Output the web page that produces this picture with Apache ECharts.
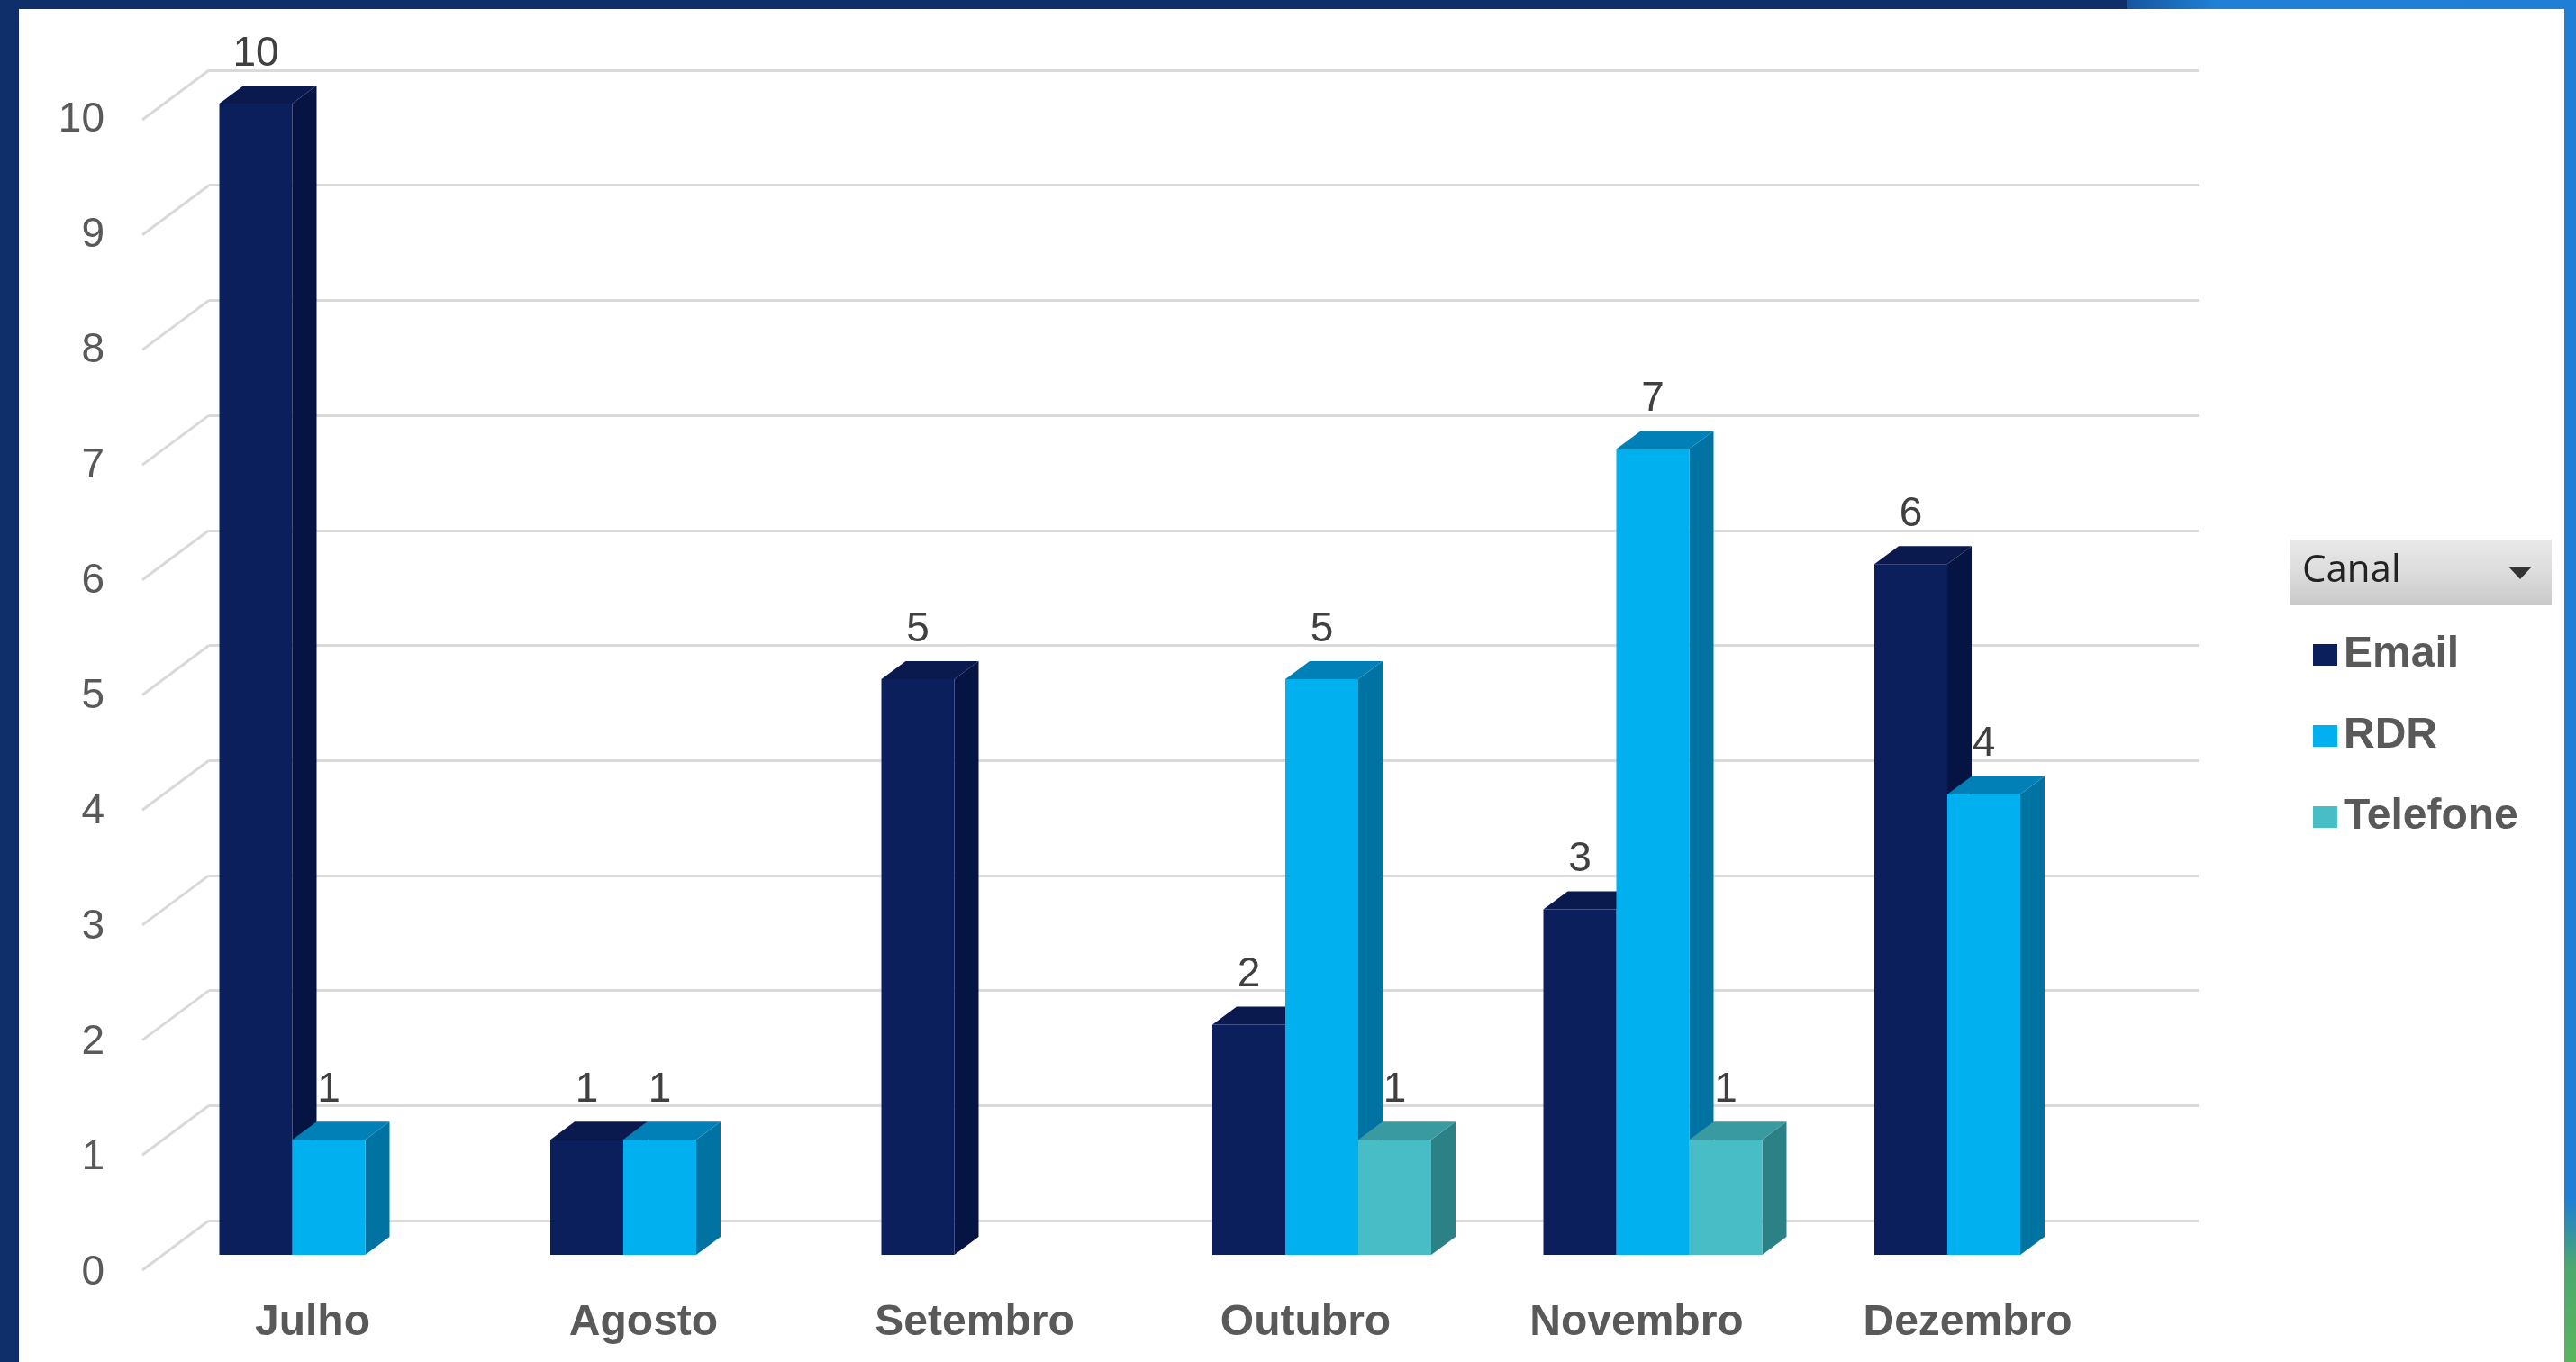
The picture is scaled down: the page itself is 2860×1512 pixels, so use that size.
<!DOCTYPE html>
<html>
<head>
<meta charset="utf-8">
<script src="https://cdn.jsdelivr.net/npm/echarts@6/dist/echarts.min.js"></script>
<style>
  html, body { margin: 0; padding: 0; width: 2860px; height: 1512px; overflow: hidden; background: #0f2f6b; }
  #topRight { position: absolute; left: 2362px; top: 0; width: 498px; height: 10px; background: linear-gradient(to right, #17569f, #2080d8 20%, #1f7fd6); }
  #rightStrip { position: absolute; left: 2847px; top: 0; width: 13px; height: 1512px; background: linear-gradient(to bottom, #1f7fd6 0%, #1f7fd6 88%, #4aa96e 93%, #59b55c 100%); }
  #panel { position: absolute; left: 21px; top: 10px; width: 2826px; height: 1502px; background: #ffffff; }
  #chart { position: absolute; left: 0; top: 0; width: 2860px; height: 1512px; }
</style>
</head>
<body>
<div id="topRight"></div>
<div id="rightStrip"></div>
<div id="panel"></div>
<div id="chart"></div>
<script>
// ---- data ----
const categories = ['Julho', 'Agosto', 'Setembro', 'Outubro', 'Novembro', 'Dezembro'];
const emailValues = [10, 1, 5, 2, 3, 6];
const rdrValues = [1, 1, null, 5, 7, 4];
const telefoneValues = [null, null, null, 1, 1, null];
const seriesNames = ['Email', 'RDR', 'Telefone'];
const yTickValues = [0, 1, 2, 3, 4, 5, 6, 7, 8, 9, 10];

// ---- style ----
const palette = [
  { front: '#0a1f5c', side: '#061443', top: '#0a1a4e' },
  { front: '#00b0ef', side: '#0073a3', top: '#0080b6' },
  { front: '#48bdc6', side: '#2c8187', top: '#3a9aa1' }
];
const FONT = '"Liberation Sans", Arial, sans-serif';
const DX = 27, DY = 20;

const chart = echarts.init(document.getElementById('chart'), null, { renderer: 'canvas' });

function barRenderer(slot) {
  return function (params, api) {
    const v = api.value(1);
    if (v == null || isNaN(v)) return;
    const cat = api.value(0);
    const top = api.coord([cat, v]);
    const base = api.coord([cat, 0]);
    const band = api.size([1, 0])[0];
    const w = band * 0.2204;
    const x0 = top[0] + (slot - 1.5) * w;
    const c = palette[slot];
    return {
      type: 'group',
      children: [
        { type: 'polygon', shape: { points: [[x0 + w, top[1]], [x0 + w + DX, top[1] - DY], [x0 + w + DX, base[1] - DY], [x0 + w, base[1]]] }, style: { fill: c.side } },
        { type: 'polygon', shape: { points: [[x0, top[1]], [x0 + DX, top[1] - DY], [x0 + w + DX, top[1] - DY], [x0 + w, top[1]]] }, style: { fill: c.top } },
        { type: 'rect', shape: { x: x0, y: top[1], width: w, height: base[1] - top[1] }, style: { fill: c.front } },
        { type: 'text', x: x0 + w / 2, y: top[1] - 55, style: { text: String(v), font: '46px ' + FONT, fill: '#404040', align: 'center', verticalAlign: 'middle' } }
      ]
    };
  };
}

const valuesList = [emailValues, rdrValues, telefoneValues];

const option = {
  backgroundColor: 'transparent',
  animation: false,
  grid: [
    { left: 232, right: 419, top: 78, bottom: 157 },      // back wall
    { left: 181.25, right: 473.75, top: 115, bottom: 119 }, // bars (front faces)
    { left: 130, right: 2600, top: 133, bottom: 99 }       // value labels (front floor edge)
  ],
  xAxis: [
    { gridIndex: 0, type: 'value', min: 0, max: 1, show: false },
    { gridIndex: 1, type: 'category', data: categories,
      axisLine: { show: false }, axisTick: { show: false },
      axisLabel: { margin: 52, fontFamily: FONT, fontSize: 48, fontWeight: 'bold', color: '#595959', padding: [0, 36, 0, 0] } },
    { gridIndex: 2, type: 'value', min: 0, max: 1, show: false }
  ],
  yAxis: [
    { gridIndex: 0, type: 'value', min: 0, max: 10, interval: 1,
      axisLine: { show: false }, axisTick: { show: false }, axisLabel: { show: false },
      splitLine: { show: true, lineStyle: { color: '#d9d9d9', width: 3 } } },
    { gridIndex: 1, type: 'value', min: 0, max: 10, interval: 1, show: false, splitLine: { show: false } },
    { gridIndex: 2, type: 'value', min: 0, max: 10, interval: 1,
      axisLine: { show: false }, axisTick: { show: false }, splitLine: { show: false },
      axisLabel: { margin: 14, fontFamily: FONT, fontSize: 46, color: '#595959' } }
  ],
  legend: {
    orient: 'vertical', left: 2563, top: 697,
    data: seriesNames,
    icon: 'rect', itemWidth: 27, itemHeight: 24, itemGap: 40,
    textStyle: { fontFamily: FONT, fontSize: 48, fontWeight: 'bold', color: '#595959', lineHeight: 50, padding: [0, 0, 0, 2] }
  },
  graphic: [
    { type: 'rect', left: 2543, top: 599, shape: { width: 290, height: 73 },
      style: { fill: new echarts.graphic.LinearGradient(0, 0, 0, 1, [{ offset: 0, color: '#e9e9e9' }, { offset: 0.5, color: '#dcdcdc' }, { offset: 1, color: '#c9c9c9' }]) } },
    { type: 'text', left: 2556, top: 613, style: { text: 'Canal', font: '42px "Open Sans", "Noto Sans", sans-serif', fill: '#222222' } },
    { type: 'polygon', shape: { points: [[2785, 629], [2811, 629], [2798, 643]] }, style: { fill: '#333333' } }
  ],
  series: [
    { type: 'custom', name: 'diag', xAxisIndex: 0, yAxisIndex: 0, silent: true, z: 1,
      data: yTickValues.map(v => [0, v]),
      renderItem: function (params, api) {
        const p = api.coord([0, api.value(1)]);
        return { type: 'line', shape: { x1: p[0] - 74, y1: p[1] + 55, x2: p[0], y2: p[1] }, style: { stroke: '#d9d9d9', lineWidth: 3 } };
      } }
  ].concat(seriesNames.map((name, s) => ({
    type: 'custom', name: name, xAxisIndex: 1, yAxisIndex: 1, z: 3,
    itemStyle: { color: palette[s].front },
    data: categories.map((c, i) => [i, valuesList[s][i]]),
    renderItem: barRenderer(s)
  })))
};
chart.setOption(option);
</script>
</body>
</html>
